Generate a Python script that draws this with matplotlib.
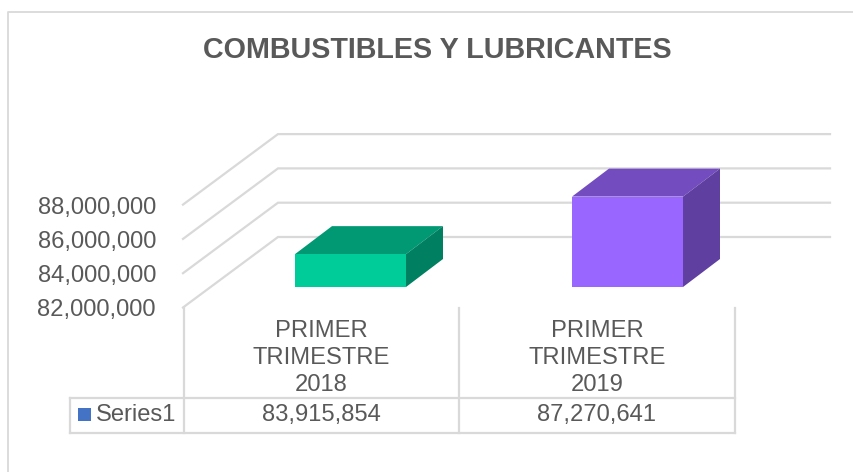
import matplotlib
matplotlib.use('Agg')
import matplotlib.pyplot as plt
from matplotlib.patches import Polygon, Rectangle

plt.rcParams['font.family'] = ['Liberation Sans', 'DejaVu Sans']

## Donnees
titre = 'COMBUSTIBLES Y LUBRICANTES'
categories = ['PRIMER\nTRIMESTRE\n2018', 'PRIMER\nTRIMESTRE\n2019']
valeurs = [83915854, 87270641]
etiquettes = ['83,915,854', '87,270,641']
graduations = [82000000, 84000000, 86000000, 88000000]
serie = 'Series1'

## Geometrie (pixels de l'image)
W, H = 854, 472
y_base = 287.0        # bas de la face avant (= 82 000 000)
px_par_unite = 17.15e-6
dx3d, dy3d = 37, -28  # profondeur des barres
def ypx(v):
    return y_base - (v - graduations[0]) * px_par_unite

gris = '#d9d9d9'
texte = '#595959'

fig = plt.figure(figsize=(W/100, H/100), dpi=100)
ax = fig.add_axes([0, 0, 1, 1])
ax.set_xlim(0, W)
ax.set_ylim(H, 0)
ax.axis('off')

# cadre du graphique
ax.plot([8, 8, 853], [472, 12, 12], color=gris, lw=1.3)

ax.text(437, 50.5, titre, fontsize=20.7, fontweight='bold', color=texte, ha='center', va='center')

# murs et graduations
for v in graduations:
    y = ypx(v) - 50
    ax.plot([183, 278, 830], [y + 70.5, y, y], color=gris, lw=1.6, solid_joinstyle='miter')
    ax.text(156, y + 73 + (v - graduations[0]) * 0.2e-6, f'{v:,}', fontsize=17.1, color=texte, ha='right', va='center')

# barres 3D
couleurs = [('#00cc99', '#009973', '#008060'), ('#9966ff', '#734dbf', '#5f3fa0')]
x_gauche = [295, 572]
largeur = 111
for x, v, c in zip(x_gauche, valeurs, couleurs):
    yh = ypx(v)
    ax.add_patch(Polygon([(x, yh), (x + dx3d, yh + dy3d), (x + largeur + dx3d, yh + dy3d), (x + largeur, yh)], fc=c[1], ec='none', zorder=3))
    ax.add_patch(Polygon([(x + largeur, yh), (x + largeur + dx3d, yh + dy3d), (x + largeur + dx3d, y_base + dy3d), (x + largeur, y_base)], fc=c[2], ec='none', zorder=3))
    ax.add_patch(Rectangle((x, yh), largeur, y_base - yh, fc=c[0], ec='none', zorder=4))

# table de donnees
cols = [184, 459, 735]
ax.plot([70, 735], [397.5, 397.5], color=gris, lw=1.6)
ax.plot([70, 735], [432.5, 432.5], color=gris, lw=1.6)
ax.plot([70.5, 70.5], [397.5, 432.5], color=gris, lw=1.6)
for x in cols:
    ax.plot([x, x], [308, 432.5], color=gris, lw=1.6)
for i, (cat, et) in enumerate(zip(categories, etiquettes)):
    xc = (cols[i] + cols[i + 1]) / 2
    ax.text(xc, 358, cat, fontsize=17.1, color=texte, ha='center', va='center', linespacing=1.27)
    ax.text(xc, 415.5, et, fontsize=17.1, color=texte, ha='center', va='center')
ax.add_patch(Rectangle((78, 408), 13, 13, fc='#4472c4', ec='none'))
ax.text(96, 415, serie, fontsize=17.1, color=texte, ha='left', va='center')

fig.savefig('out.png', dpi=100)
